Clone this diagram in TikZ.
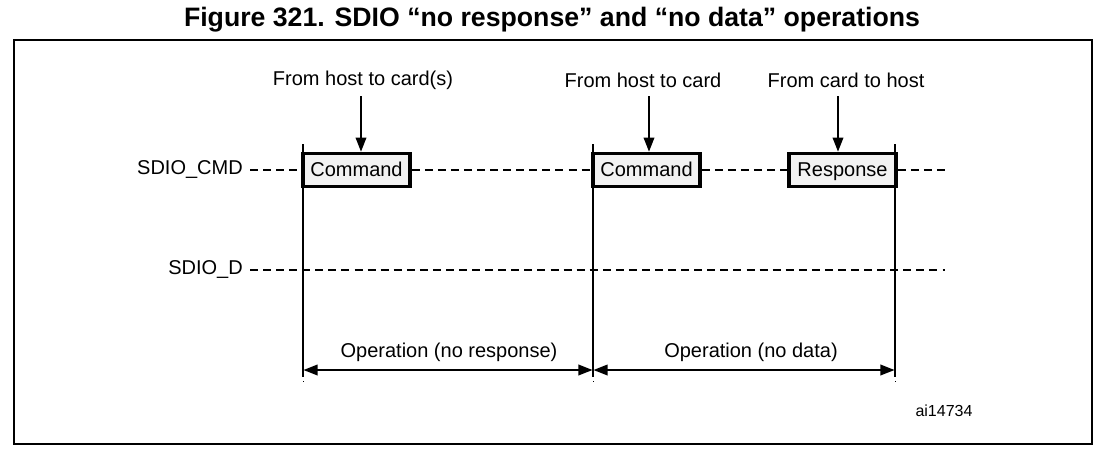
\documentclass[tikz,border=0pt]{standalone}
\usepackage{fontspec}
\setmainfont{Liberation Sans}
\usetikzlibrary{arrows.meta}
\definecolor{boxfill}{HTML}{F2F2F2}
\tikzset{
  x=0.75pt, y=-0.75pt,
  lbl/.style={font=\fontsize{15}{18}\selectfont, inner sep=0pt},
  sig/.style={draw, line width=2.8pt, fill=boxfill, minimum width=80pt, minimum height=24.75pt, inner sep=0pt, text height=10.8pt, text depth=0.8pt, font=\fontsize{15}{18}\selectfont},
  dline/.style={line width=0.8pt, dash pattern=on 6pt off 3.8pt},
  vline/.style={line width=0.8pt},
  arr/.style={line width=1pt, -{Triangle[length=10.5pt, width=8pt]}},
  dim/.style={line width=1pt, {Triangle[length=10.5pt, width=8pt]}-{Triangle[length=10.5pt, width=8pt]}, shorten <=0.4pt, shorten >=0.4pt},
}
\begin{document}
\begin{tikzpicture}
\useasboundingbox (0,0) rectangle (1106,450);
% title
\node[font=\fontsize{20}{24}\selectfont\bfseries, inner sep=0pt] (title) at (552,20) {Figure 321. SDIO “no response” and “no data” operations};
% frame
\draw[line width=1.6pt] (14,40) rectangle (1092,444);
% signal labels
\node[lbl, anchor=east] (cmdlbl) at (243,170) {SDIO\_CMD};
\node[lbl, anchor=east] (dlbl) at (243,270) {SDIO\_D};
% boxes
\node[sig] (cmd1) at (356.5,170) {Command};
\node[sig] (cmd2) at (646.5,170) {Command};
\node[sig] (resp) at (842.5,170) {Response};
% dashed signal lines
\coordinate (cmdstart) at (250,170);
\coordinate (cmdend) at (945,170);
\coordinate (dstart) at (250,270);
\coordinate (dend) at (945,270);
\draw[dline] (cmdstart) -- (cmd1.west);
\draw[dline] (cmd1.east) -- (cmd2.west);
\draw[dline] (cmd2.east) -- (resp.west);
\draw[dline] (resp.east) -- (cmdend);
\draw[dline] (dstart) -- (dend);
% vertical markers
\coordinate (v1t) at (303,144); \coordinate (v1b) at (303,377);
\coordinate (v2t) at (593,144); \coordinate (v2b) at (593,377);
\coordinate (v3t) at (895,144); \coordinate (v3b) at (895,377);
\draw[vline] (v1t) -- (v1b);
\draw[vline] (v2t) -- (v2b);
\draw[vline] (v3t) -- (v3b);
\fill (302.5,380.5) rectangle (303.5,382);
\fill (592.5,380.5) rectangle (593.5,382);
\fill (894.5,380.5) rectangle (895.5,382);
% top labels and arrows
\node[lbl] (l1) at (363,80) {From host to card(s)};
\node[lbl] (l2) at (643,80) {From host to card};
\node[lbl] (l3) at (846,80) {From card to host};
\coordinate (a1) at (361,96);
\coordinate (a2) at (649,96);
\coordinate (a3) at (838,96);
\draw[arr] (a1) -- (a1 |- cmd1.north);
\draw[arr] (a2) -- (a2 |- cmd2.north);
\draw[arr] (a3) -- (a3 |- resp.north);
% operation spans
\coordinate (d1) at (303,370);
\coordinate (d2) at (593,370);
\coordinate (d3) at (895,370);
\draw[dim] (d1) -- (d2);
\draw[dim] (d2) -- (d3);
\node[lbl] (op1) at (449,352) {Operation (no response)};
\node[lbl] (op2) at (751,352) {Operation (no data)};
% figure id
\node[lbl, font=\fontsize{12}{14}\selectfont] (id) at (944,411) {ai14734};
\end{tikzpicture}
\end{document}
